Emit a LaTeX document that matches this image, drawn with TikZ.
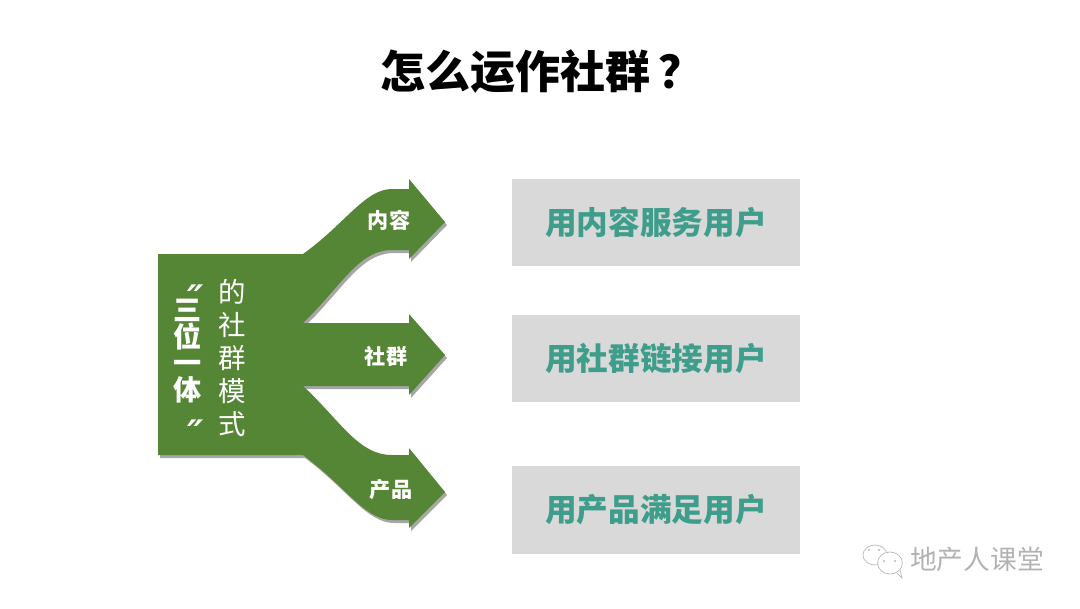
\documentclass[tikz,border=0pt]{standalone}
\usepackage{fontspec}
\usetikzlibrary{shapes.geometric}
\setmainfont{Noto Sans CJK SC}
\newfontfamily\quotefont{DejaVu Sans}
\definecolor{armgreen}{HTML}{558636}
\definecolor{armshadow}{HTML}{A6A6A6}
\definecolor{boxgray}{HTML}{D9D9D9}
\definecolor{boxtext}{HTML}{3F9E8B}
\begin{document}
\begin{tikzpicture}[x=0.025cm, y=-0.025cm]
	\tikzstyle{every node}=[inner sep=0pt]
	\tikzstyle{box}=[fill=boxgray, minimum width=7.2cm, minimum height=2.18cm, text=boxtext, font=\bfseries\fontsize{22.5}{26}\selectfont]
	\tikzstyle{armlabel}=[text=white, font=\bfseries\fontsize{15}{18}\selectfont]
	\tikzstyle{column}=[text=white, align=center]
	\tikzstyle{quotemark}=[text=white, font=\quotefont\bfseries\itshape\fontsize{26}{26}\selectfont, text height=8pt, text depth=0pt]
	\tikzstyle{bubble}=[draw=gray!55, fill=white, line width=0.5pt]

	\useasboundingbox (0, 0) rectangle (1080, 608);

	\node[anchor=west, font=\bfseries\fontsize{32}{36}\selectfont] at (380, 72) (title) {怎么运作社群\hspace{6pt}？};

	\def\armpath{(158, 254) -- (303, 254) .. controls (345, 224) and (365, 189) .. (392, 189) -- (409, 189) -- (409, 179) -- (445, 222) -- (409, 259) -- (409, 250) -- (392, 250) .. controls (358, 250) and (340, 288) .. (303, 323) -- (409, 323) -- (409, 314) -- (445, 355) -- (409, 395) -- (409, 386) -- (303, 386) .. controls (340, 420) and (358, 455) .. (392, 455) -- (409, 455) -- (409, 448) -- (445, 492) -- (409, 528) -- (409, 520) -- (392, 520) .. controls (365, 520) and (345, 486) .. (303, 455) -- (158, 455) -- cycle}
	\fill[armshadow, shift={(2, 3)}] \armpath;
	\fill[armgreen] \armpath;

	\node[quotemark] at (196, 288) (quoteopen) {\raisebox{-12.8pt}{″}};
	\node[column, font=\bfseries\fontsize{20}{19}\selectfont] at (188, 351) (trinity) {三\\位\\一\\体};
	\node[quotemark] at (196, 423) (quoteclose) {\raisebox{-12.8pt}{″}};
	\node[column, font=\fontsize{19.5}{23.6}\selectfont] at (232, 358) (mode) {的\\社\\群\\模\\式};

	\node[armlabel] at (389, 220) (content) {内容};
	\node[armlabel] at (386, 356) (community) {社群};
	\node[armlabel] at (391, 490) (product) {产品};

	\node[box] at (656, 222.5) (serve) {用内容服务用户};
	\node[box] at (656, 358.5) (link) {用社群链接用户};
	\node[box] at (656, 510) (meet) {用产品满足用户};

	% watermark
	\node[bubble, ellipse, minimum width=0.6cm, minimum height=0.5cm] at (875, 555) (bubbleA) {};
	\node[bubble, ellipse, minimum width=0.62cm, minimum height=0.55cm] at (890, 563) (bubbleB) {};
	\fill[gray!55] (884, 561) circle (1.2) (895, 561) circle (1.2) (869, 550) circle (1.2) (879, 550) circle (1.2);
	\draw[gray!55, line width=0.5pt] (897, 573) -- (902, 578) -- (900, 570);
	\node[text=gray!60, font=\fontsize{19}{21}\selectfont] at (977, 559) (mark) {地产人课堂};
\end{tikzpicture}
\end{document}
